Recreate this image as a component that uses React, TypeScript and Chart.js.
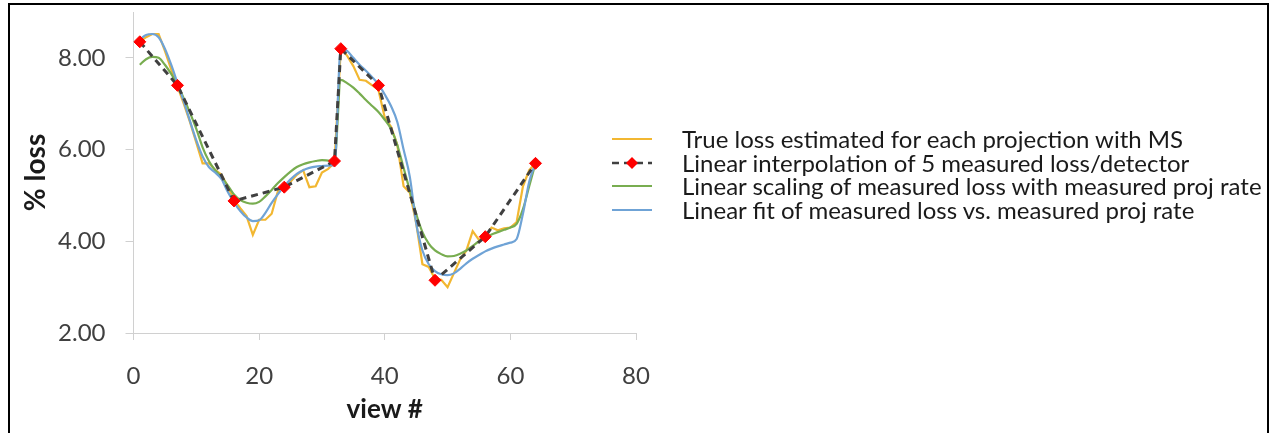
import React, { useEffect, useRef } from "react";
import { Chart, registerables } from "chart.js";

Chart.register(...registerables);

// ---- data ----
const views = [
  1, 2, 3, 4, 5, 6, 7, 8, 9, 10, 11, 12, 13, 14, 15, 16,
  17, 18, 19, 20, 21, 22, 23, 24, 25, 26, 27, 28, 29, 30, 31, 32,
  33, 34, 35, 36, 37, 38, 39, 40, 41, 42, 43, 44, 45, 46, 47, 48,
  49, 50, 51, 52, 53, 54, 55, 56, 57, 58, 59, 60, 61, 62, 63, 64,
];

const trueLoss = [
  8.35, 8.45, 8.52, 8.52, 8.15, 7.75, 7.38, 7.0, 6.6, 6.15, 5.7, 5.7, 5.56, 5.45, 5.2, 4.9,
  4.72, 4.55, 4.14, 4.47, 4.47, 4.6, 5.1, 5.2, 5.3, 5.45, 5.55, 5.18, 5.2, 5.5, 5.58, 5.72,
  8.2, 8.05, 7.82, 7.52, 7.5, 7.4, 7.3, 6.7, 6.5, 6.1, 5.2, 5.06, 4.4, 3.5, 3.44, 3.18,
  3.16, 3.0, 3.3, 3.6, 3.8, 4.22, 4.03, 4.1, 4.3, 4.24, 4.28, 4.3, 4.42, 5.2, 5.55, 5.7,
];

const measuredViews = [1, 7, 16, 24, 32, 33, 39, 48, 56, 64];
const measuredLoss = [8.35, 7.4, 4.88, 5.18, 5.75, 8.2, 7.4, 3.15, 4.1, 5.7];

const scalingLoss = [
  7.85, 7.97, 8.02, 8.0, 7.85, 7.65, 7.42, 7.12, 6.8, 6.45, 6.05, 5.75, 5.55, 5.4, 5.22, 5.02,
  4.9, 4.84, 4.82, 4.86, 4.98, 5.12, 5.27, 5.4, 5.52, 5.62, 5.68, 5.72, 5.75, 5.77, 5.76, 5.75,
  7.52, 7.45, 7.35, 7.22, 7.08, 6.95, 6.82, 6.65, 6.45, 6.1, 5.6, 5.1, 4.6, 4.2, 3.95, 3.8,
  3.72, 3.67, 3.68, 3.73, 3.8, 3.9, 4.0, 4.08, 4.15, 4.2, 4.25, 4.3, 4.38, 4.7, 5.2, 5.7,
];

const fitLoss = [
  8.4, 8.5, 8.52, 8.45, 8.2, 7.85, 7.45, 7.05, 6.62, 6.2, 5.85, 5.62, 5.5, 5.36, 5.08, 4.85,
  4.66, 4.52, 4.44, 4.46, 4.62, 4.84, 5.03, 5.2, 5.35, 5.47, 5.55, 5.6, 5.63, 5.64, 5.65, 5.66,
  8.22, 8.15, 8.0, 7.85, 7.72, 7.58, 7.42, 7.2, 6.95, 6.6, 6.0, 5.4, 4.4, 3.8, 3.5, 3.35,
  3.28, 3.26, 3.3, 3.4, 3.52, 3.62, 3.7, 3.78, 3.84, 3.89, 3.93, 3.97, 4.05, 4.6, 5.3, 5.7,
];

const xTickValues = [0, 20, 40, 60, 80];
const yTickValues = [2, 4, 6, 8];

const legendLabels = [
  "True loss estimated for each projection with MS",
  "Linear interpolation of 5 measured loss/detector",
  "Linear scaling of measured loss with measured proj rate",
  "Linear fit of measured loss vs. measured proj rate",
];

const xTitle = "view #";
const yTitle = "% loss";

// ---- styles ----
const YELLOW = "#F2B731";
const GREEN = "#78AD50";
const BLUE = "#6FA3D6";
const DASH = "#404040";
const RED = "#FF0000";
const AXIS = "#D0D0D0";
const FONT = "Lato, 'Open Sans', sans-serif";

const toPoints = (xs: number[], ys: number[]) => xs.map((x, i) => ({ x, y: ys[i] }));

export default function App() {
  const canvasRef = useRef<HTMLCanvasElement | null>(null);

  useEffect(() => {
    document.body.style.overflow = "hidden";
    const canvas = canvasRef.current;
    if (!canvas) return;
    const chart = new Chart(canvas, {
      type: "line",
      data: {
        datasets: [
          {
            label: legendLabels[1],
            data: toPoints(measuredViews, measuredLoss),
            borderColor: DASH,
            borderWidth: 3,
            borderDash: [7, 5],
            pointStyle: "rectRot",
            pointRadius: 6,
            pointBackgroundColor: RED,
            pointBorderColor: RED,
            pointBorderWidth: 1,
            tension: 0,
            order: 0,
          },
          {
            label: legendLabels[3],
            data: toPoints(views, fitLoss),
            borderColor: BLUE,
            borderWidth: 2.2,
            pointRadius: 0,
            cubicInterpolationMode: "monotone",
            order: 1,
          },
          {
            label: legendLabels[2],
            data: toPoints(views, scalingLoss),
            borderColor: GREEN,
            borderWidth: 2.2,
            pointRadius: 0,
            cubicInterpolationMode: "monotone",
            order: 2,
          },
          {
            label: legendLabels[0],
            data: toPoints(views, trueLoss),
            borderColor: YELLOW,
            borderWidth: 2.2,
            pointRadius: 0,
            tension: 0,
            order: 3,
          },
        ],
      },
      options: {
        responsive: false,
        animation: false,
        layout: { padding: { left: 15, top: 12, right: 635, bottom: 4 } },
        plugins: {
          legend: { display: false },
          tooltip: { enabled: false },
        },
        scales: {
          x: {
            type: "linear",
            min: 0,
            max: 80,
            position: "bottom",
            afterBuildTicks: (s: any) => {
              s.ticks = xTickValues.map((v) => ({ value: v }));
            },
            afterFit: (s: any) => {
              s.height = 96;
              s.paddingLeft = 0;
              s.paddingRight = 0;
            },
            grid: { drawOnChartArea: false, drawTicks: true, tickLength: 7, color: AXIS },
            border: { display: true, color: AXIS, width: 1 },
            ticks: {
              color: "#404040",
              font: { family: FONT, size: 24 },
              padding: 22,
              maxRotation: 0,
              callback: (v: any) => String(v),
            },
            title: {
              display: true,
              text: xTitle,
              color: "#1a1a1a",
              font: { family: FONT, size: 26, weight: "bold" },
              padding: { top: 0, bottom: 4 },
            },
          },
          y: {
            type: "linear",
            min: 2,
            max: 9,
            afterBuildTicks: (s: any) => {
              s.ticks = yTickValues.map((v) => ({ value: v }));
            },
            afterFit: (s: any) => {
              s.width = 118.5;
              s.paddingTop = 0;
              s.paddingBottom = 0;
            },
            grid: { drawOnChartArea: false, drawTicks: true, tickLength: 8, color: AXIS },
            border: { display: true, color: AXIS, width: 1 },
            ticks: {
              color: "#404040",
              font: { family: FONT, size: 24 },
              padding: 20,
              callback: (v: any) => Number(v).toFixed(2),
            },
            title: {
              display: true,
              text: yTitle,
              color: "#1a1a1a",
              font: { family: FONT, size: 28, weight: "bold" },
              padding: { top: 4, bottom: 0 },
            },
          },
        },
      },
    } as any);
    return () => chart.destroy();
  }, []);

  const rowCenters = [139, 162.5, 186, 209.5];
  const sampleColors = [YELLOW, null, GREEN, BLUE];

  return (
    <div
      style={{
        position: "fixed",
        left: 0,
        top: 0,
        width: 1271,
        height: 433,
        overflow: "hidden",
        background: "#fff",
      }}
    >
      <div
        style={{
          position: "absolute",
          left: 8,
          top: 3,
          width: 1257,
          height: 440,
          border: "2px solid #000",
          boxSizing: "content-box",
        }}
      />
      <canvas
        ref={canvasRef}
        width={1271}
        height={433}
        style={{ position: "absolute", left: 0, top: 0, display: "block" }}
      />
      {legendLabels.map((label, i) => (
        <div key={label}>
          <svg
            width={44}
            height={14}
            style={{ position: "absolute", left: 610, top: rowCenters[i] - 7 }}
          >
            {sampleColors[i] ? (
              <line x1={2} y1={7} x2={42} y2={7} stroke={sampleColors[i] as string} strokeWidth={2.2} />
            ) : (
              <g>
                <line x1={2} y1={7} x2={42} y2={7} stroke={DASH} strokeWidth={2.5} strokeDasharray="7 5" />
                <polygon points="22,1 28,7 22,13 16,7" fill={RED} />
              </g>
            )}
          </svg>
          <div
            style={{
              position: "absolute",
              left: 682,
              top: rowCenters[i] - 14,
              height: 28,
              lineHeight: "28px",
              fontFamily: FONT,
              fontSize: 24,
              color: "#1a1a1a",
              whiteSpace: "nowrap",
            }}
          >
            {label}
          </div>
        </div>
      ))}
    </div>
  );
}
